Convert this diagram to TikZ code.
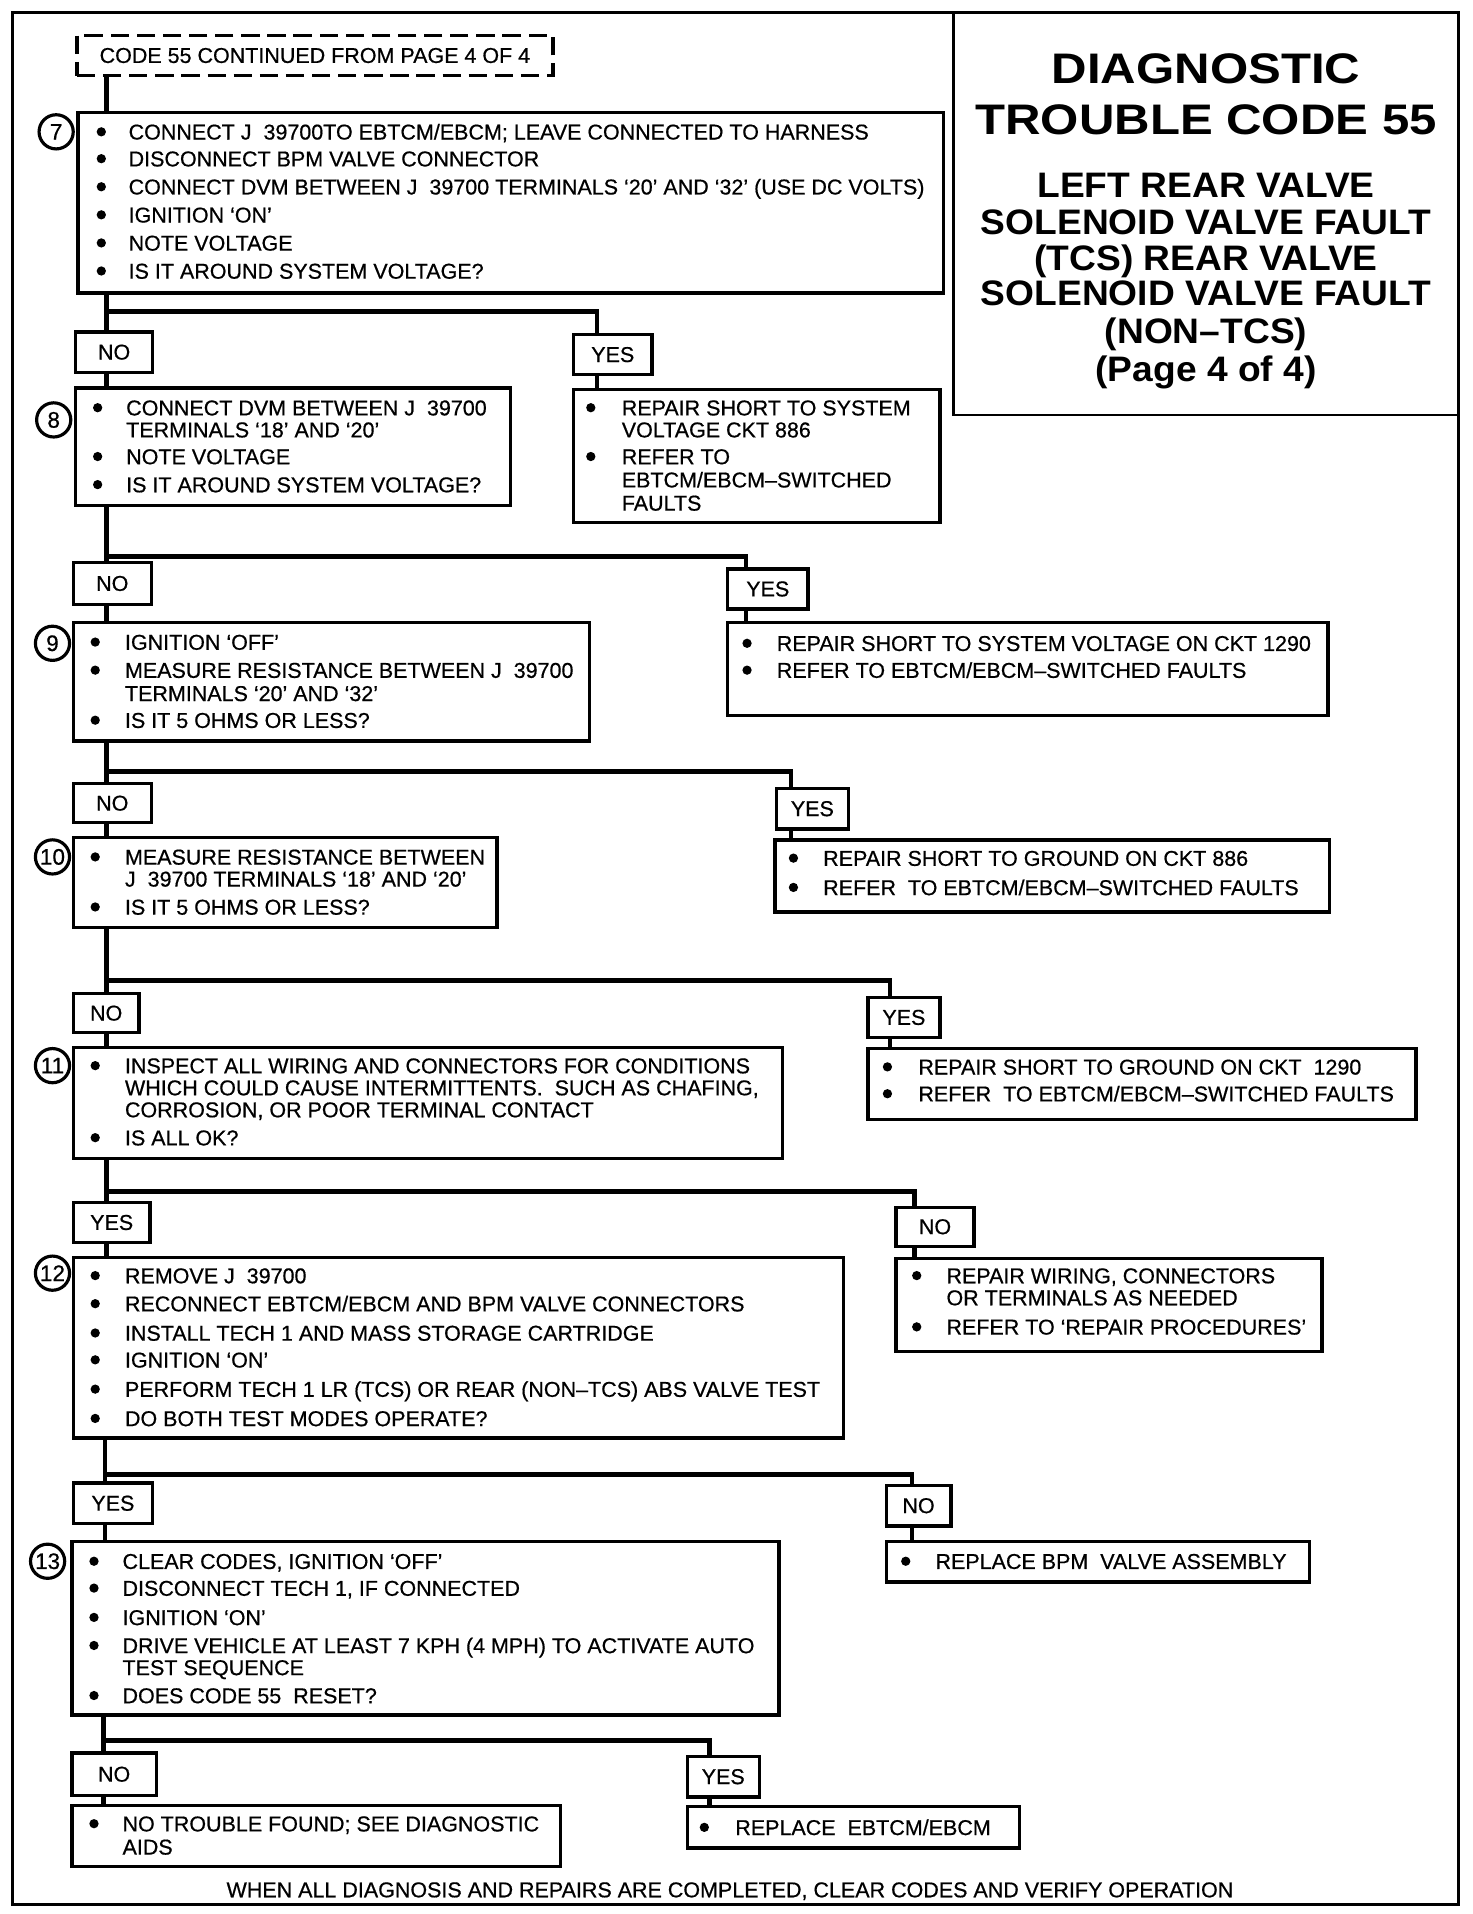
\documentclass[tikz,border=0pt]{standalone}
\usepackage{fontspec}
\usepackage{graphicx}
\setmainfont{Liberation Sans}
\newfontfamily\bodyfam[Ligatures=TeX, FakeBold=0.6]{Liberation Sans}
\usetikzlibrary{fit}
\newcommand\bodyfont{\bodyfam\fontsize{8.8}{10}\selectfont}
\newcommand\mybul[2]{\fill (#1,#2) circle[radius=1.9pt];}
\newcommand\txl[4]{\node[tx] (#1) at (#2,#3+6.3) {#4};}
\newcommand\labn[7][]{\pgfmathsetmacro\lw{(#5-#3)*0.5}\pgfmathsetmacro\lh{(#6-#4)*0.5}%
  \node[lab, #1, minimum width=\lw pt, minimum height=\lh pt] (#2) at ({(#3+#5)/2},{(#4+#6)/2}) {#7};}
\begin{document}
\begin{tikzpicture}[x=0.5pt,y=-0.5pt,
  frame/.style={draw, line width=1.2pt, inner sep=0pt},
  box/.style={draw, line width=1.4pt, inner sep=0pt},
  lab/.style={draw, line width=1.4pt, inner sep=0pt, font=\bodyfont},
  circ/.style={draw, circle, line width=1.3pt, inner sep=0pt, minimum size=14pt, font=\bodyfam\fontsize{9.2}{9}\selectfont},
  tx/.style={anchor=base west, inner sep=0pt, font=\bodyfont},
  conn/.style={line width=1.9pt},
  ttl/.style={anchor=base, inner sep=0pt, font=\bfseries\fontsize{17.5}{18}\selectfont},
  ttls/.style={anchor=base, inner sep=0pt, font=\bfseries\fontsize{14.5}{15}\selectfont}]
\useasboundingbox (0,0) rectangle (1206,1568);
\node[frame, fit={(10,10) (1195,1560)}] (frame) {};
% title
\node[frame, fit={(781,10) (1195,340)}] (title) {};
\node[ttl] (h1) at (988,56+12.5) {\scalebox{1.15}[1]{DIAGNOSTIC}};
\node[ttl] (h2) at (988,97.5+12.5) {\scalebox{1.15}[1]{TROUBLE CODE 55}};
\node[ttls] (h3) at (988,151+10.4) {\scalebox{1.05}[1]{LEFT REAR VALVE}};
\node[ttls] (h4) at (988,181.6+10.4) {\scalebox{1.05}[1]{SOLENOID VALVE FAULT}};
\node[ttls] (h5) at (988,211+10.4) {\scalebox{1.05}[1]{(TCS) REAR VALVE}};
\node[ttls] (h6) at (988,240+10.4) {\scalebox{1.05}[1]{SOLENOID VALVE FAULT}};
\node[ttls] (h7) at (988,271+10.4) {\scalebox{1.05}[1]{(NON--TCS)}};
\node[ttls] (h8) at (988,302+10.4) {\scalebox{1.05}[1]{(Page 4 of 4)}};
% start
\labn[dashed, dash pattern=on 7.5pt off 3.2pt]{d0}{63}{29}{453}{62}{CODE 55 CONTINUED FROM PAGE 4 OF 4}
\coordinate (j0) at (87,0);
% box 7
\node[box, fit={(64,92) (773,240)}] (b7) {};
\node[circ] (c7) at (46,108) {7};
\foreach \yy in {108,130,153,176,199,222} {\mybul{83}{\yy}}
\txl{t7a}{105}{108}{CONNECT J\ \ 39700TO EBTCM/EBCM; LEAVE CONNECTED TO HARNESS}
\txl{t7b}{105}{130}{DISCONNECT BPM VALVE CONNECTOR}
\txl{t7c}{105}{153}{CONNECT DVM BETWEEN J\ \ 39700 TERMINALS `20' AND `32' (USE DC VOLTS)}
\txl{t7d}{105}{176}{IGNITION `ON'}
\txl{t7e}{105}{199}{NOTE VOLTAGE}
\txl{t7f}{105}{222}{IS IT AROUND SYSTEM VOLTAGE?}
\coordinate (j7) at (87,255);
\coordinate (bx7) at (489,255);
\labn{n7}{62}{272}{125}{305}{NO}
\labn{y7}{470}{274}{534}{307}{YES}
% box 8
\node[box, fit={(62,318) (418,414)}] (b8) {};
\node[circ] (c8) at (44,344) {8};
\foreach \yy in {334,374,397} {\mybul{80}{\yy}}
\txl{t8a}{103}{334}{CONNECT DVM BETWEEN J\ \ 39700}
\txl{t8b}{103}{352}{TERMINALS `18' AND `20'}
\txl{t8c}{103}{374}{NOTE VOLTAGE}
\txl{t8d}{103}{397}{IS IT AROUND SYSTEM VOLTAGE?}
\node[box, fit={(470,319) (770,428)}] (r7) {};
\foreach \yy in {334,374} {\mybul{484}{\yy}}
\txl{u7a}{509}{334}{REPAIR SHORT TO SYSTEM}
\txl{u7b}{509}{352}{VOLTAGE CKT 886}
\txl{u7c}{509}{374}{REFER TO}
\txl{u7d}{509}{393}{EBTCM/EBCM--SWITCHED}
\txl{u7e}{509}{412}{FAULTS}
\coordinate (j8) at (87,456);
\coordinate (bx8) at (611,456);
\labn{n8}{60}{461}{124}{495}{NO}
\labn{y8}{596}{466}{662}{499}{YES}
% box 9
\node[box, fit={(60,510) (483,607)}] (b9) {};
\node[circ] (c9) at (43,527) {9};
\foreach \yy in {526,549,590} {\mybul{78}{\yy}}
\txl{t9a}{102}{526}{IGNITION `OFF'}
\txl{t9b}{102}{549}{MEASURE RESISTANCE BETWEEN J\ \ 39700}
\txl{t9c}{102}{568}{TERMINALS `20' AND `32'}
\txl{t9d}{102}{590}{IS IT 5 OHMS OR LESS?}
\node[box, fit={(596,510) (1088,586)}] (r8) {};
\foreach \yy in {527,549} {\mybul{612}{\yy}}
\txl{u8a}{636}{527}{REPAIR SHORT TO SYSTEM VOLTAGE ON CKT 1290}
\txl{u8b}{636}{549}{REFER TO EBTCM/EBCM--SWITCHED FAULTS}
\coordinate (j9) at (87,632);
\coordinate (bx9) at (648,632);
\labn{n9}{60}{642}{124}{674}{NO}
\labn{y9}{636}{646}{695}{679}{YES}
% box 10
\node[box, fit={(60,686) (407,760)}] (b10) {};
\node[circ] (c10) at (43,702) {10};
\foreach \yy in {702,743} {\mybul{78}{\yy}}
\txl{t10a}{102}{702}{MEASURE RESISTANCE BETWEEN}
\txl{t10b}{102}{720}{J\ \ 39700 TERMINALS `18' AND `20'}
\txl{t10c}{102}{743}{IS IT 5 OHMS OR LESS?}
\node[box, fit={(635,688) (1089,747)}] (r9) {};
\foreach \yy in {703,727} {\mybul{650}{\yy}}
\txl{u9a}{674}{703}{REPAIR SHORT TO GROUND ON CKT 886}
\txl{u9b}{674}{727}{REFER\ \ TO EBTCM/EBCM--SWITCHED FAULTS}
\coordinate (j10) at (87,803);
\coordinate (bx10) at (729,803);
\labn{n10}{60}{814}{114}{846}{NO}
\labn{y10}{711}{817}{770}{850}{YES}
% box 11
\node[box, fit={(60,858) (641,949)}] (b11) {};
\node[circ] (c11) at (43,873) {11};
\foreach \yy in {873,932} {\mybul{78}{\yy}}
\txl{t11a}{102}{873}{INSPECT ALL WIRING AND CONNECTORS FOR CONDITIONS}
\txl{t11b}{102}{891}{WHICH COULD CAUSE INTERMITTENTS.\ \ SUCH AS CHAFING,}
\txl{t11c}{102}{909}{CORROSION, OR POOR TERMINAL CONTACT}
\txl{t11d}{102}{932}{IS ALL OK?}
\node[box, fit={(711,859) (1160,917)}] (r10) {};
\foreach \yy in {874,896} {\mybul{727}{\yy}}
\txl{u10a}{752}{874}{REPAIR SHORT TO GROUND ON CKT\ \ 1290}
\txl{u10b}{752}{896}{REFER\ \ TO EBTCM/EBCM--SWITCHED FAULTS}
\coordinate (j11) at (87,976);
\coordinate (bx11) at (749,976);
\labn{y11}{60}{985}{123}{1018}{YES}
\labn{n11}{734}{989}{798}{1021}{NO}
% box 12
\node[box, fit={(60,1030) (691,1178)}] (b12) {};
\node[circ] (c12) at (43,1043) {12};
\foreach \yy in {1045,1068,1092,1114,1138,1162} {\mybul{78}{\yy}}
\txl{t12a}{102}{1045}{REMOVE J\ \ 39700}
\txl{t12b}{102}{1068}{RECONNECT EBTCM/EBCM AND BPM VALVE CONNECTORS}
\txl{t12c}{102}{1092}{INSTALL TECH 1 AND MASS STORAGE CARTRIDGE}
\txl{t12d}{102}{1114}{IGNITION `ON'}
\txl{t12e}{102}{1138}{PERFORM TECH 1 LR (TCS) OR REAR (NON--TCS) ABS VALVE TEST}
\txl{t12f}{102}{1162}{DO BOTH TEST MODES OPERATE?}
\node[box, fit={(734,1031) (1083,1107)}] (r11) {};
\foreach \yy in {1045,1087} {\mybul{751}{\yy}}
\txl{u11a}{775}{1045}{REPAIR WIRING, CONNECTORS}
\txl{u11b}{775}{1063}{OR TERMINALS AS NEEDED}
\txl{u11c}{775}{1087}{REFER TO `REPAIR PROCEDURES'}
\coordinate (j12) at (86,1208);
\coordinate (bx12) at (747,1208);
\labn{y12}{60}{1215}{125}{1248}{YES}
\labn{n12}{726}{1217}{779}{1250}{NO}
% box 13
\node[box, fit={(59,1263) (638,1405)}] (b13) {};
\node[circ] (c13) at (39,1279) {13};
\foreach \yy in {1279,1301,1325,1348,1389} {\mybul{77}{\yy}}
\txl{t13a}{100}{1279}{CLEAR CODES, IGNITION `OFF'}
\txl{t13b}{100}{1301}{DISCONNECT TECH 1, IF CONNECTED}
\txl{t13c}{100}{1325}{IGNITION `ON'}
\txl{t13d}{100}{1348}{DRIVE VEHICLE AT LEAST 7 KPH (4 MPH) TO ACTIVATE AUTO}
\txl{t13e}{100}{1366}{TEST SEQUENCE}
\txl{t13f}{100}{1389}{DOES CODE 55\ \ RESET?}
\node[box, fit={(726,1263) (1073,1296)}] (r12) {};
\mybul{742}{1279}
\txl{u12a}{766}{1279}{REPLACE BPM\ \ VALVE ASSEMBLY}
\coordinate (j13) at (85,1426);
\coordinate (bx13) at (581,1426);
\labn{n13}{59}{1436}{128}{1471}{NO}
\labn{y13}{563}{1439}{622}{1472}{YES}
% final boxes
\node[box, fit={(59,1479) (459,1529)}] (b14) {};
\mybul{77}{1494}
\txl{t14a}{100}{1494}{NO TROUBLE FOUND; SEE DIAGNOSTIC}
\txl{t14b}{100}{1513}{AIDS}
\node[box, fit={(563,1480) (835,1514)}] (r13) {};
\mybul{577}{1497}
\txl{u13a}{602}{1497}{REPLACE\ \ EBTCM/EBCM}
\node[anchor=base, inner sep=0pt, font=\bodyfont] (foot) at (598,1548+6.3) {WHEN ALL DIAGNOSIS AND REPAIRS ARE COMPLETED, CLEAR CODES AND VERIFY OPERATION};
% connectors
\draw[conn] (d0.south -| j0) -- (b7.north -| j0);
\draw[conn] (b7.south -| j7) -- (n7.north -| j7);
\draw[conn] (j7) -- (bx7) -- (y7.north -| bx7);
\draw[conn] (n7.south -| j7) -- (b8.north -| j7);
\draw[conn] (y7.south -| bx7) -- (r7.north -| bx7);
\draw[conn] (b8.south -| j8) -- (n8.north -| j8);
\draw[conn] (j8) -- (bx8) -- (y8.north -| bx8);
\draw[conn] (n8.south -| j8) -- (b9.north -| j8);
\draw[conn] (y8.south -| bx8) -- (r8.north -| bx8);
\draw[conn] (b9.south -| j9) -- (n9.north -| j9);
\draw[conn] (j9) -- (bx9) -- (y9.north -| bx9);
\draw[conn] (n9.south -| j9) -- (b10.north -| j9);
\draw[conn] (y9.south -| bx9) -- (r9.north -| bx9);
\draw[conn] (b10.south -| j10) -- (n10.north -| j10);
\draw[conn] (j10) -- (bx10) -- (y10.north -| bx10);
\draw[conn] (n10.south -| j10) -- (b11.north -| j10);
\draw[conn] (y10.south -| bx10) -- (r10.north -| bx10);
\draw[conn] (b11.south -| j11) -- (y11.north -| j11);
\draw[conn] (j11) -- (bx11) -- (n11.north -| bx11);
\draw[conn] (y11.south -| j11) -- (b12.north -| j11);
\draw[conn] (n11.south -| bx11) -- (r11.north -| bx11);
\draw[conn] (b12.south -| j12) -- (y12.north -| j12);
\draw[conn] (j12) -- (bx12) -- (n12.north -| bx12);
\draw[conn] (y12.south -| j12) -- (b13.north -| j12);
\draw[conn] (n12.south -| bx12) -- (r12.north -| bx12);
\draw[conn] (b13.south -| j13) -- (n13.north -| j13);
\draw[conn] (j13) -- (bx13) -- (y13.north -| bx13);
\draw[conn] (n13.south -| j13) -- (b14.north -| j13);
\draw[conn] (y13.south -| bx13) -- (r13.north -| bx13);
\end{tikzpicture}
\end{document}
